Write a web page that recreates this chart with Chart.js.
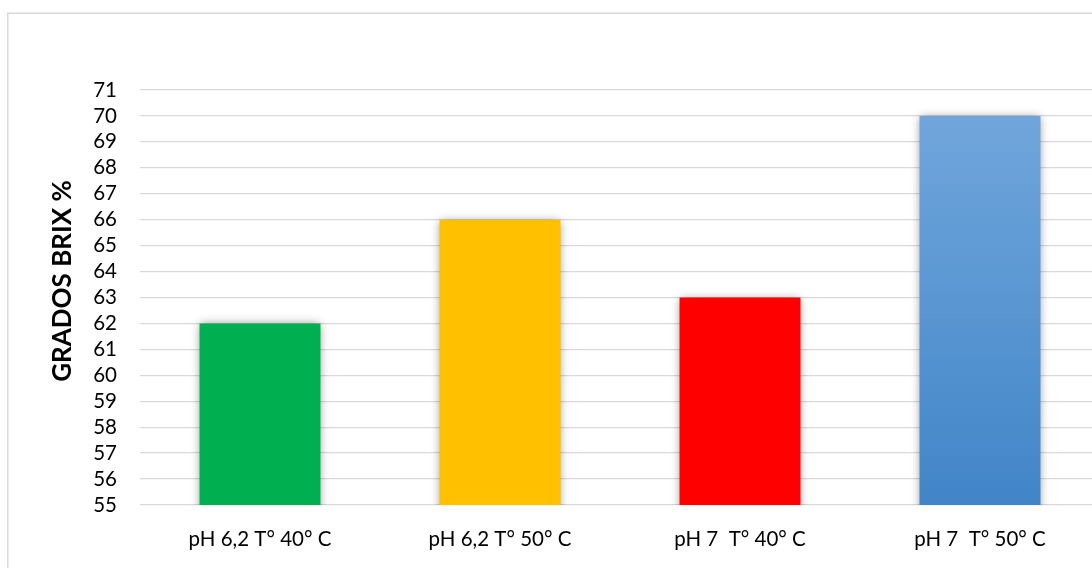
<!DOCTYPE html>
<html>
<head>
<meta charset="utf-8">
<script src="https://cdn.jsdelivr.net/npm/chart.js@4/dist/chart.umd.min.js"></script>
<style>
  html, body { margin: 0; padding: 0; background: #ffffff; overflow: hidden; }
  #wrap { position: absolute; left: 0; top: 0; width: 1110px; height: 580px; }
</style>
</head>
<body>
<div id="wrap"><canvas id="chart"></canvas></div>
<script>
// Sugar content (°Brix) per treatment
const categories = ['pH 6,2 T° 40° C', 'pH 6,2 T° 50° C', 'pH 7  T° 40° C', 'pH 7  T° 50° C'];
const brixValues = [62, 66, 63, 70];
const barColors = ['#00B050', '#FFC000', '#FF0000', null]; // last bar uses a vertical gradient
const yTicksMin = 55;
const yTicksMax = 71;
const yAxisTitle = 'GRADOS BRIX %';

const FONT = 'Lato, "Open Sans", sans-serif';

// Light frame around the whole chart
const framePlugin = {
  id: 'frame',
  beforeDraw(chart) {
    const ctx = chart.ctx;
    ctx.save();
    ctx.strokeStyle = '#D9D9D9';
    ctx.lineWidth = 1.5;
    ctx.strokeRect(7.75, 13.25, 1200, 700);
    ctx.restore();
  }
};

// Soft drop shadow under the bars
const shadowPlugin = {
  id: 'barShadow',
  beforeDatasetDraw(chart) {
    const ctx = chart.ctx;
    ctx.save();
    ctx.shadowColor = 'rgba(0,0,0,0.45)';
    ctx.shadowBlur = 9;
    ctx.shadowOffsetX = 0;
    ctx.shadowOffsetY = 1;
  },
  afterDatasetDraw(chart) {
    chart.ctx.restore();
  }
};

// Rotated axis title on the left
const yTitlePlugin = {
  id: 'yTitle',
  afterDraw(chart) {
    const ctx = chart.ctx;
    ctx.save();
    ctx.translate(63, 281);
    ctx.rotate(-Math.PI / 2);
    ctx.font = 'bold 26px ' + FONT;
    ctx.fillStyle = '#000000';
    ctx.textAlign = 'center';
    ctx.textBaseline = 'middle';
    ctx.fillText(yAxisTitle, 0, 0);
    ctx.restore();
  }
};

function barFill(context) {
  const i = context.dataIndex;
  if (barColors[i]) return barColors[i];
  const chart = context.chart;
  const area = chart.chartArea;
  const yScale = chart.scales && chart.scales.y;
  if (!area || !yScale) return '#5B9BD5';
  const top = yScale.getPixelForValue(brixValues[i]);
  const bottom = yScale.getPixelForValue(yTicksMin);
  if (!isFinite(top) || !isFinite(bottom) || top === bottom) return '#5B9BD5';
  const g = chart.ctx.createLinearGradient(0, top, 0, bottom);
  g.addColorStop(0, '#70A6DB');
  g.addColorStop(1, '#4185C8');
  return g;
}

new Chart(document.getElementById('chart'), {
  type: 'bar',
  data: {
    labels: categories,
    datasets: [{
      data: brixValues,
      backgroundColor: barFill,
      borderWidth: 0,
      categoryPercentage: 1,
      barPercentage: 0.504
    }]
  },
  options: {
    responsive: true,
    maintainAspectRatio: false,
    animation: false,
    devicePixelRatio: 1,
    layout: { padding: { left: 0, top: 90, right: 10, bottom: 25 } },
    plugins: {
      legend: { display: false },
      tooltip: { enabled: false },
      title: { display: false }
    },
    scales: {
      x: {
        grid: { display: false },
        border: { display: false },
        ticks: {
          color: '#000000',
          font: { family: FONT, size: 20.5 },
          padding: 14,
          maxRotation: 0,
          autoSkip: false
        },
        afterFit(scale) { scale.height = 50; }
      },
      y: {
        min: yTicksMin,
        max: yTicksMax,
        grid: { color: '#D9D9D9', lineWidth: 1.3, drawTicks: false },
        border: { display: false },
        ticks: {
          stepSize: 1,
          autoSkip: false,
          color: '#000000',
          font: { family: FONT, size: 20.5 },
          padding: 23
        },
        afterFit(scale) { scale.width = 140; }
      }
    }
  },
  plugins: [framePlugin, shadowPlugin, yTitlePlugin]
});
</script>
</body>
</html>
